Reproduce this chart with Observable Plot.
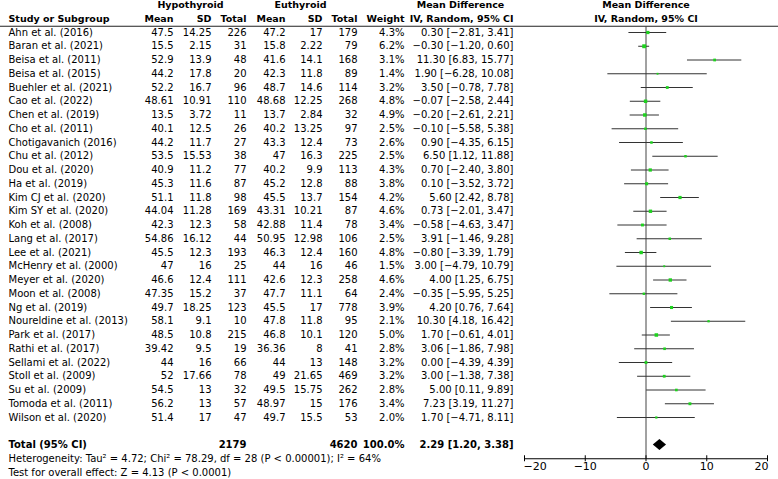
<!DOCTYPE html>
<html><head><meta charset="utf-8">
<script src="https://cdn.jsdelivr.net/npm/d3@7"></script>
<script src="https://cdn.jsdelivr.net/npm/@observablehq/plot@0.6"></script>
<style>
html,body{margin:0;padding:0;background:#fff;}
#chart svg{display:block;}
</style>
</head><body><div id="chart"></div>
<script>
// ---------- data ----------
const studies = ["Ahn et al. (2016)","Baran et al. (2021)","Beisa et al. (2011)","Beisa et al. (2015)","Buehler et al. (2021)","Cao et al. (2022)","Chen et al. (2019)","Cho et al. (2011)","Chotigavanich (2016)","Chu et al. (2012)","Dou et al. (2020)","Ha et al. (2019)","Kim CJ et al. (2020)","Kim SY et al. (2020)","Koh et al. (2008)","Lang et al. (2017)","Lee et al. (2021)","McHenry et al. (2000)","Meyer et al. (2020)","Moon et al. (2008)","Ng et al. (2019)","Noureldine et al. (2013)","Park et al. (2017)","Rathi et al. (2017)","Sellami et al. (2022)","Stoll et al. (2009)","Su et al. (2009)","Tomoda et al. (2011)","Wilson et al. (2020)"];
const hypoMean = ["47.5","15.5","52.9","44.2","52.2","48.61","13.5","40.1","44.2","53.5","40.9","45.3","51.1","44.04","42.3","54.86","45.5","47","46.6","47.35","49.7","58.1","48.5","39.42","44","52","54.5","56.2","51.4"];
const hypoSD = ["14.25","2.15","13.9","17.8","16.7","10.91","3.72","12.5","11.7","15.53","11.2","11.6","11.8","11.28","12.3","16.12","12.3","16","12.4","15.2","18.25","9.1","10.8","9.5","16","17.66","13","13","17"];
const hypoN = [226,31,48,20,96,110,11,26,27,38,77,87,98,169,58,44,193,25,111,37,123,10,215,19,66,78,32,57,47];
const euMean = ["47.2","15.8","41.6","42.3","48.7","48.68","13.7","40.2","43.3","47","40.2","45.2","45.5","43.31","42.88","50.95","46.3","44","42.6","47.7","45.5","47.8","46.8","36.36","44","49","49.5","48.97","49.7"];
const euSD = ["17","2.22","14.1","11.8","14.6","12.25","2.84","13.25","12.4","16.3","9.9","12.8","13.7","10.21","11.4","12.98","12.4","16","12.3","11.1","17","11.8","10.1","8","13","21.65","15.75","15","15.5"];
const euN = [179,79,168,89,114,268,32,97,73,225,113,88,154,87,78,106,160,46,258,64,778,95,120,41,148,469,262,176,53];
const weight = [4.3,6.2,3.1,1.4,3.2,4.8,4.9,2.5,2.6,2.5,4.3,3.8,4.2,4.6,3.4,2.5,4.8,1.5,4.6,2.4,3.9,2.1,5.0,2.8,3.2,3.2,2.8,3.4,2.0];
const md = [0.30,-0.30,11.30,1.90,3.50,-0.07,-0.20,-0.10,0.90,6.50,0.70,0.10,5.60,0.73,-0.58,3.91,-0.80,3.00,4.00,-0.35,4.20,10.30,1.70,3.06,0.00,3.00,5.00,7.23,1.70];
const ciLow = [-2.81,-1.20,6.83,-6.28,-0.78,-2.58,-2.61,-5.58,-4.35,1.12,-2.40,-3.52,2.42,-2.01,-4.63,-1.46,-3.39,-4.79,1.25,-5.95,0.76,4.18,-0.61,-1.86,-4.39,-1.38,0.11,3.19,-4.71];
const ciHigh = [3.41,0.60,15.77,10.08,7.78,2.44,2.21,5.38,6.15,11.88,3.80,3.72,8.78,3.47,3.47,9.28,1.79,10.79,6.75,5.25,7.64,16.42,4.01,7.98,4.39,7.38,9.89,11.27,8.11];

const totalLabel = "Total (95% CI)";
const totalHypoN = 2179, totalEuN = 4620, totalWeight = 100.0;
const totalMD = 2.29, totalLow = 1.20, totalHigh = 3.38;
const hetText = "Heterogeneity: Tau² = 4.72; Chi² = 78.29, df = 28 (P < 0.00001); I² = 64%";
const testText = "Test for overall effect: Z = 4.13 (P < 0.0001)";
const groupHeaders = ["Hypothyroid","Euthyroid","Mean Difference","Mean Difference"];
const colHeaders = ["Study or Subgroup","Mean","SD","Total","Mean","SD","Total","Weight","IV, Random, 95% CI","IV, Random, 95% CI"];
const xTicks = [-20,-10,0,10,20];

// ---------- build ----------
const rowOrder = ["h1","h2", ...studies, "gap", "Total", "het", "test"];
const row = k => rowOrder.indexOf(k);
const fmt = v => v.toFixed(2).replace("-", "\u2212");
const ciText = (m,l,h) => `${fmt(m)} [${fmt(l)}, ${fmt(h)}]`;
const rows = studies.map((s,i) => ({
  study: s, r: row(s), hm: hypoMean[i], hsd: hypoSD[i], hn: String(hypoN[i]),
  em: euMean[i], esd: euSD[i], en: String(euN[i]),
  w: weight[i].toFixed(1) + "%", md: md[i], lo: ciLow[i], hi: ciHigh[i],
  ci: ciText(md[i], ciLow[i], ciHigh[i]), weight: weight[i]
}));
const total = {r: row("Total"), label: totalLabel, hn: String(totalHypoN), en: String(totalEuN),
  w: totalWeight.toFixed(1) + "%", ci: ciText(totalMD, totalLow, totalHigh), md: totalMD, lo: totalLow, hi: totalHigh};

const FS = 10, HFS = 9.5;
const font = '"DejaVu Sans", sans-serif';

// column layout (pixels from the left edge)
const cols = [
  {k:"hm", x:173}, {k:"hsd", x:211}, {k:"hn", x:246},
  {k:"em", x:285}, {k:"esd", x:322}, {k:"en", x:357},
  {k:"w", x:404}, {k:"ci", x:513}
];
const headerPos = [{x:8,a:"start"},{x:173,a:"end"},{x:211,a:"end"},{x:246,a:"end"},{x:285,a:"end"},{x:322,a:"end"},{x:357,a:"end"},{x:404,a:"end"},{x:513,a:"end"},{x:null,a:"middle"}];
const groupPos = [190, 300, 460, null];

const textBase = {frameAnchor: "left", fontSize: FS, fill: "#000", fontFamily: font};

const marks = [];
// header line
marks.push(Plot.ruleY([row("h2")], {y: d => d, dy: 7.5, stroke: "#222", strokeWidth: 1.2}));
// zero line
marks.push(Plot.ruleX([0], {x: d => d, y1: row("h2"), y2: row("het"), insetTop: 8, stroke: "#444", strokeWidth: 1}));
// group headers
groupHeaders.forEach((t, i) => {
  if (groupPos[i] === null) marks.push(Plot.text([t], {x: () => 0, y: () => row("h1"), text: d => d, fontWeight: "bold", fontSize: HFS, fontFamily: font, textAnchor: "middle"}));
  else marks.push(Plot.text([t], {...textBase, fontSize: HFS, y: () => row("h1"), text: d => d, dx: groupPos[i], textAnchor: "middle", fontWeight: "bold"}));
});
colHeaders.forEach((t, i) => {
  const p = headerPos[i];
  if (p.x === null) marks.push(Plot.text([t], {x: () => 0, y: () => row("h2"), text: d => d, fontWeight: "bold", fontSize: HFS, fontFamily: font, textAnchor: "middle"}));
  else marks.push(Plot.text([t], {...textBase, fontSize: HFS, y: () => row("h2"), text: d => d, dx: p.x, textAnchor: p.a, fontWeight: "bold"}));
});
// study rows
marks.push(Plot.text(rows, {...textBase, y: "r", text: "study", dx: 8, textAnchor: "start"}));
cols.forEach(c => marks.push(Plot.text(rows, {...textBase, y: "r", text: c.k, dx: c.x, textAnchor: "end"})));
// total row
marks.push(Plot.text([total], {...textBase, y: "r", text: "label", dx: 8, textAnchor: "start", fontWeight: "bold"}));
[{k:"hn",x:246},{k:"en",x:357},{k:"w",x:404},{k:"ci",x:513}].forEach(c =>
  marks.push(Plot.text([total], {...textBase, y: "r", text: c.k, dx: c.x, textAnchor: "end", fontWeight: "bold"})));
// footer
marks.push(Plot.text([hetText], {...textBase, y: () => row("het"), text: d => d, dx: 8, textAnchor: "start"}));
marks.push(Plot.text([testText], {...textBase, y: () => row("test"), text: d => d, dx: 8, textAnchor: "start"}));
// CIs
marks.push(Plot.ruleY(rows, {y: "r", x1: "lo", x2: "hi", stroke: "#333", strokeWidth: 1}));
marks.push(Plot.dot(rows, {x: "md", y: "r", r: "weight", symbol: "square", fill: "#1ed21e", stroke: "none"}));
// diamond
marks.push((...args) => {
  const scales = args.find(a => a && typeof a.x === "function" && typeof a.y === "function");
  const cx = scales.x(total.md), x1 = scales.x(total.lo), x2 = scales.x(total.hi), cy = scales.y(total.r);
  const h = 5.5;
  const poly = document.createElementNS("http://www.w3.org/2000/svg", "polygon");
  poly.setAttribute("points", `${x1},${cy} ${cx},${cy - h} ${x2},${cy} ${cx},${cy + h}`);
  poly.setAttribute("fill", "#000");
  return poly;
});
// axis
marks.push(Plot.ruleY([row("het")], {y: d => d, x1: xTicks[0], x2: xTicks[xTicks.length - 1], stroke: "#000", strokeWidth: 1}));
marks.push(Plot.ruleX(xTicks, {x: d => d, y1: () => row("het"), y2: () => row("het"), insetTop: -3, insetBottom: -3, stroke: "#000"}));
const axisOpts = {tickSize: 0, tickPadding: 3, label: null, fontSize: 11, fontFamily: font};
marks.push(Plot.axisX({...axisOpts, ticks: xTicks.slice(1, -1)}));
marks.push(Plot.axisX({...axisOpts, ticks: xTicks.slice(0, 1), textAnchor: "start", dx: -1}));
marks.push(Plot.axisX({...axisOpts, ticks: xTicks.slice(-1), textAnchor: "end", dx: 1}));

const chart = Plot.plot({
  width: 778, height: 479,
  marginLeft: 0, marginRight: 0, marginTop: 0, marginBottom: 479 - 458.25,
  style: {fontFamily: font, fontSize: "10px", background: "#fff", color: "#000"},
  x: {domain: [-20, 20], range: [524, 767], axis: null},
  y: {domain: [0, rowOrder.length - 1], range: [4.5, 472], axis: null},
  r: {range: [0, 2.2]},
  marks
});
document.getElementById("chart").appendChild(chart);
</script>
</body></html>
